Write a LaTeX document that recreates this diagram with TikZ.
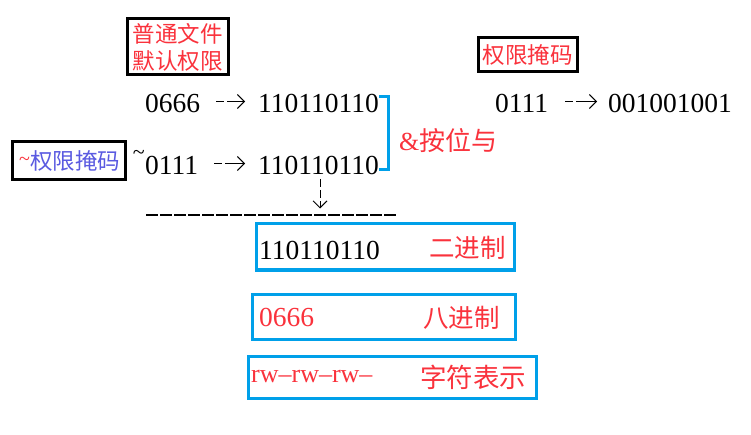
\documentclass[tikz,border=0pt]{standalone}
\usepackage{fontspec}
\newfontfamily\cjk{Noto Sans CJK SC}
\newfontfamily\numfont[Ligatures=TeX]{Liberation Serif}
\usetikzlibrary{arrows.meta}
\definecolor{myred}{RGB}{250,50,60}
\definecolor{myblue}{RGB}{0,160,233}
\definecolor{mypurple}{RGB}{90,90,225}
\tikzset{
  num/.style={inner sep=0pt, anchor=west, font=\numfont\fontsize{27.5}{30}\selectfont},
  lab/.style={inner sep=0pt, anchor=west, text=myred, font=\cjk\fontsize{25.5}{28}\selectfont},
  blackbox/.style={draw=black, line width=3pt, inner sep=0pt},
  bluebox/.style={draw=myblue, line width=3pt, inner sep=0pt},
  arr/.style={line width=0.9pt, dash pattern=on 8pt off 3pt on 40pt, -{Straight Barb[length=7pt,width=14pt]}},
  darr/.style={line width=0.9pt, dash pattern=on 8pt off 3pt, -{Straight Barb[length=7pt,width=14pt]}},
  brk/.style={draw=myblue, line width=3pt},
}
\begin{document}
\begin{tikzpicture}[x=1pt,y=-1pt]
\useasboundingbox[fill=white] (0,0) rectangle (751,435);

% top-left note
\node[blackbox, minimum width=101pt, minimum height=56pt, align=center,
      text=myred, font=\cjk\fontsize{22.5}{27}\selectfont] (note) at (177.5,47) {普通文件\\默认权限};

% row 1
\node[num] (a1) at (145,103.5) {0666};
\node[num] (b1) at (258,103.5) {110110110};
\draw[arr, shorten <=16pt, shorten >=13pt] ([yshift=2pt]a1.east) -- ([yshift=2pt]b1.west);

% row 2
\node[blackbox, minimum width=113pt, minimum height=38pt] (mask2) at (68.5,161) {};
\node[inner sep=0pt, anchor=west, font=\cjk\fontsize{22.5}{26}\selectfont] (mask2t) at (19,161)
  {\textcolor{myred}{\raisebox{4pt}{\numfont\fontsize{20}{20}\selectfont\textasciitilde}}\textcolor{mypurple}{权限掩码}};
\node[inner sep=0pt, anchor=east, font=\numfont\fontsize{22}{24}\selectfont] (tl) at (145,155) {\textasciitilde};
\node[num] (a2) at (145,165.5) {0111};
\node[num] (b2) at (258,165.5) {110110110};
\draw[arr, shorten <=16pt, shorten >=13pt] ([yshift=2pt]a2.east) -- ([yshift=2pt]b2.west);

% bracket and label
\draw[brk] ([yshift=6.5pt]b1.east) -- ++(9,0) |- ([yshift=-4.5pt]b2.east);
\node[lab, font=\cjk\fontsize{26}{28}\selectfont] (and) at (399,141) {{\numfont\&}按位与};

% down arrow and separator line
\coordinate (d1) at (320,179);
\coordinate (d2) at (320,208.5);
\draw[darr] (d1) -- (d2);
\coordinate (s1) at (146,215);
\coordinate (s2) at (396,215);
\draw[line width=1.1pt, dash pattern=on 12pt off 2pt] (s1) -- (s2);

% top-right
\node[blackbox, minimum width=99pt, minimum height=34pt, text=myred,
      font=\cjk\fontsize{22.5}{26}\selectfont] (mask1) at (527.5,55) {权限掩码};
\node[num] (c1) at (495,103.5) {0111};
\node[num] (c2) at (608,103.5) {001001001};
\draw[arr, shorten <=17pt, shorten >=11pt] ([yshift=2pt]c1.east) -- ([yshift=2pt]c2.west);

% result boxes
\node[bluebox, minimum width=258pt, minimum height=46pt] (r1) at (385,247) {};
\node[num] (r1a) at (259,250) {110110110};
\node[lab] (r1b) at (429,248) {二进制};

\node[bluebox, minimum width=263pt, minimum height=45pt] (r2) at (383.5,316.5) {};
\node[num, text=myred] (r2a) at (259,317.5) {0666};
\node[lab] (r2b) at (423,318) {八进制};

\node[bluebox, minimum width=288pt, minimum height=42pt] (r3) at (392.5,377) {};
\node[num, text=myred, font=\numfont\fontsize{26}{30}\selectfont] (r3a) at (251,376) {rw\textendash rw\textendash rw\textendash};
\node[lab, font=\cjk\fontsize{26.5}{28}\selectfont] (r3b) at (420,377) {字符表示};
\end{tikzpicture}
\end{document}
